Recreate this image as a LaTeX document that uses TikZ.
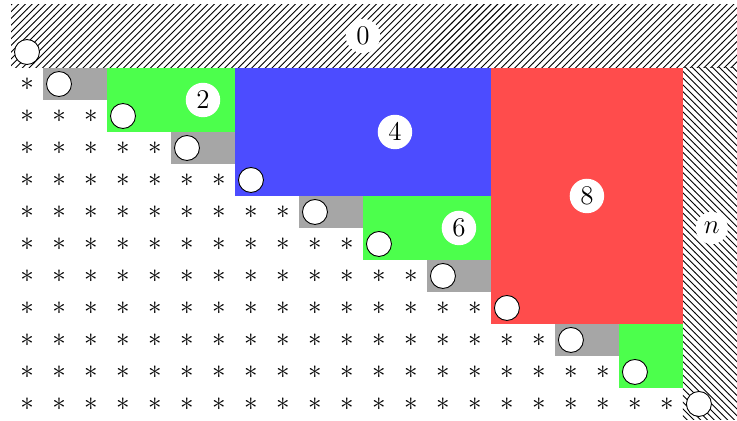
\documentclass[tikz,border=0pt]{standalone}
\usepackage{tikz}
\usetikzlibrary{patterns}
\definecolor{cellgray}{gray}{0.65}
\tikzset{tok/.style={circle,draw,fill=white,minimum size=0.39cm,inner sep=0pt},
lab/.style={circle,fill=white,inner sep=2pt,font=\large},
ast/.style={inner sep=0pt,font=\large}}

\begin{document}
\begin{tikzpicture}[x=0.5cm,y=0.5cm]
\useasboundingbox (-0.844,-10.53) rectangle (22.19,2.625);
\clip (-0.844,-10.53) rectangle (22.19,2.625);
% hatched borders
\fill[pattern=north east lines] (-0.5,0.5) rectangle (22.5,2.5);
\fill[pattern=north west lines] (20.5,-10.5) rectangle (22.5,0.5);
% blocks
\foreach \k in {0,...,4}
  \fill[cellgray] (4*\k+0.5,-2*\k+0.5) rectangle (4*\k+2.5,-2*\k-0.5);
\fill[green!70] (2.5,0.5) rectangle (6.5,-1.5);
\fill[green!70] (10.5,-3.5) rectangle (14.5,-5.5);
\fill[green!70] (18.5,-7.5) rectangle (20.5,-9.5);
\fill[blue!70] (6.5,0.5) rectangle (14.5,-3.5);
\fill[red!70] (14.5,0.5) rectangle (20.5,-7.5);
% stars below the staircase
\foreach \i [evaluate=\i as \m using int(2*\i)] in {0,...,10}
  \foreach \j in {0,...,\m}
    \node[ast] (s-\i-\j) at (\j,-\i) {$*$};
% tokens
\node[tok] (top) at (0,1) {};
\foreach \k in {0,...,4}
  \node[tok] (g\k) at (4*\k+1,-2*\k) {};
\node[tok] (b2) at (3,-1) {};
\node[tok] (b4) at (7,-3) {};
\node[tok] (b6) at (11,-5) {};
\node[tok] (b8) at (15,-7) {};
\node[tok] (b10) at (19,-9) {};
\node[tok] (end) at (21,-10) {};
% labels
\node[lab] (l0) at (10.5,1.5) {$0$};
\node[lab] (l2) at (5.5,-0.5) {$2$};
\node[lab] (l4) at (11.5,-1.5) {$4$};
\node[lab] (l6) at (13.5,-4.5) {$6$};
\node[lab] (l8) at (17.5,-3.5) {$8$};
\node[lab] (ln) at (21.4,-4.5) {$n$};
\end{tikzpicture}
\end{document}
